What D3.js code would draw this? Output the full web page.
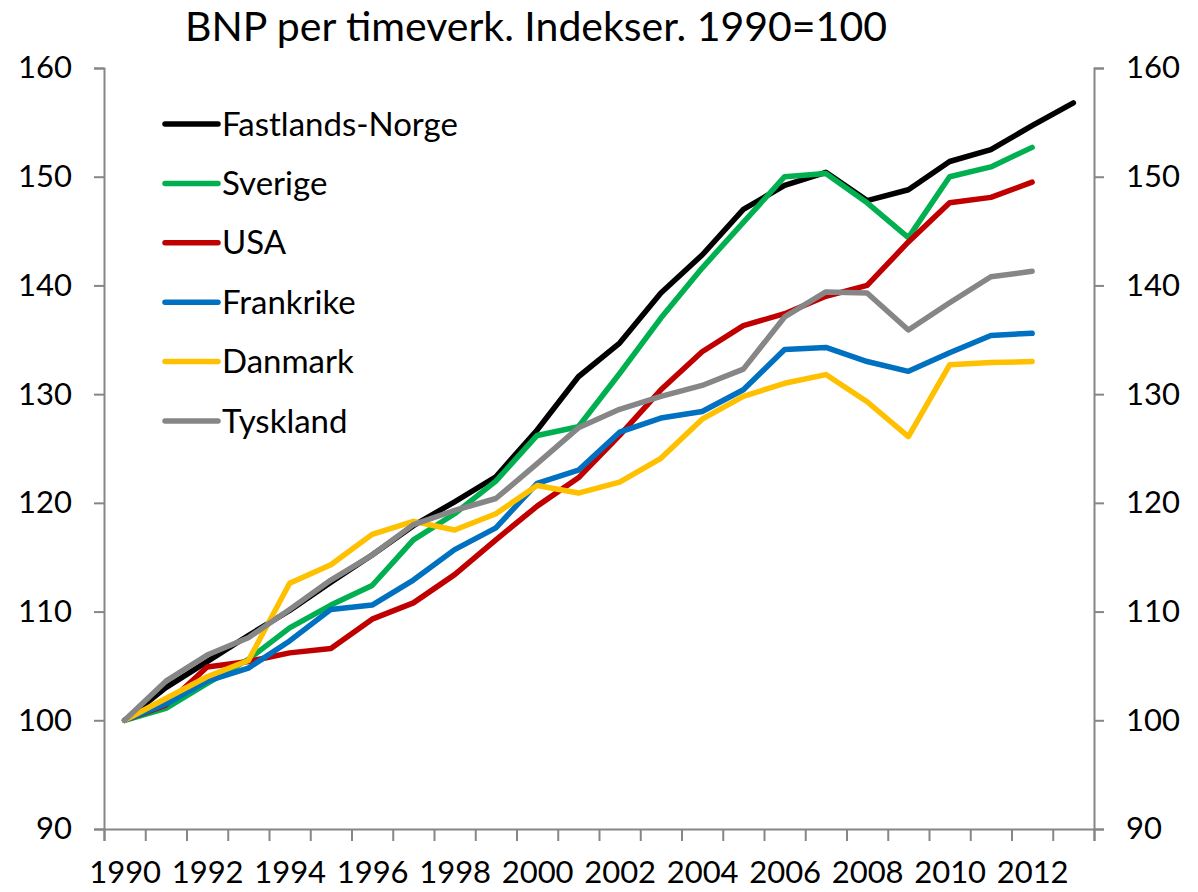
<!DOCTYPE html>
<html>
<head>
<meta charset="utf-8">
<script src="https://cdn.jsdelivr.net/npm/d3@7"></script>
<style>
  body { margin: 0; background: #fff; }
  text { font-family: Lato, "Open Sans", sans-serif; fill: #000; }
</style>
</head>
<body>
<div id="chart"></div>
<script>
// data
var years = d3.range(1990, 2014);
var yearLabels = ["1990","1992","1994","1996","1998","2000","2002","2004","2006","2008","2010","2012"];
var yTicks = [90, 100, 110, 120, 130, 140, 150, 160];

var norge    = [100, 103.0, 105.4, 107.8, 110.1, 112.7, 115.2, 117.9, 120.1, 122.4, 126.7, 131.6, 134.7, 139.3, 142.8, 147.0, 149.2, 150.4, 147.8, 148.8, 151.4, 152.5, 154.7, 156.8];
var sverige  = [100, 101.1, 103.4, 105.6, 108.5, 110.6, 112.4, 116.6, 119.0, 122.0, 126.2, 127.0, 131.9, 137.0, 141.6, 145.8, 150.0, 150.3, 147.6, 144.4, 150.0, 150.9, 152.7];
var usa      = [100, 101.4, 104.9, 105.4, 106.2, 106.6, 109.3, 110.8, 113.4, 116.6, 119.7, 122.3, 126.2, 130.4, 133.9, 136.3, 137.4, 139.0, 140.0, 144.0, 147.6, 148.1, 149.5];
var frankrike= [100, 101.5, 103.6, 104.8, 107.3, 110.2, 110.6, 112.9, 115.7, 117.7, 121.8, 123.0, 126.5, 127.8, 128.4, 130.4, 134.1, 134.3, 133.0, 132.1, 133.8, 135.4, 135.6];
var danmark  = [100, 102.0, 104.0, 105.5, 112.6, 114.3, 117.1, 118.3, 117.5, 119.0, 121.6, 120.9, 121.9, 124.1, 127.7, 129.8, 131.0, 131.8, 129.3, 126.1, 132.7, 132.9, 133.0];
var tyskland = [100, 103.6, 106.0, 107.6, 110.2, 112.9, 115.2, 118.0, 119.3, 120.4, 123.6, 126.9, 128.6, 129.8, 130.8, 132.3, 137.1, 139.4, 139.3, 135.9, 138.4, 140.8, 141.3];

var seriesNames = ["Fastlands-Norge", "Sverige", "USA", "Frankrike", "Danmark", "Tyskland"];
var seriesColors = ["#000000", "#00B050", "#C00000", "#0070C0", "#FFC000", "#868686"];
var seriesValues = [norge, sverige, usa, frankrike, danmark, tyskland];

var width = 1198, height = 892;
var plotLeft = 104, plotRight = 1094, plotTop = 68, plotBottom = 829;

var svg = d3.select("#chart").append("svg")
  .attr("width", width)
  .attr("height", height);

var x = d3.scaleLinear().domain([1989.5, 2013.5]).range([plotLeft, plotRight]);
var y = d3.scaleLinear().domain([90, 160]).range([plotBottom, plotTop]);

var axisColor = "#868686";

// left axis
svg.append("g")
  .attr("transform", "translate(" + plotLeft + ",0)")
  .call(d3.axisLeft(y).tickValues(yTicks).tickSize(10).tickPadding(22).tickFormat(d3.format("d")))
  .call(g => g.select(".domain").attr("stroke", axisColor).attr("stroke-width", 2))
  .call(g => g.selectAll(".tick line").attr("stroke", axisColor).attr("stroke-width", 2))
  .call(g => g.selectAll(".tick text").attr("font-size", 31).style("font-family", "Lato, sans-serif"));

// right axis
svg.append("g")
  .attr("transform", "translate(" + plotRight + ",0)")
  .call(d3.axisRight(y).tickValues(yTicks).tickSize(10).tickPadding(22).tickFormat(d3.format("d")))
  .call(g => g.select(".domain").attr("stroke", axisColor).attr("stroke-width", 2))
  .call(g => g.selectAll(".tick line").attr("stroke", axisColor).attr("stroke-width", 2))
  .call(g => g.selectAll(".tick text").attr("font-size", 31).style("font-family", "Lato, sans-serif"));

// bottom axis: tick marks between the years
svg.append("g")
  .attr("transform", "translate(0," + plotBottom + ")")
  .call(d3.axisBottom(x).tickValues(d3.range(1989.5, 2014, 1)).tickSize(12).tickFormat(""))
  .call(g => g.select(".domain").attr("stroke", axisColor).attr("stroke-width", 2))
  .call(g => g.selectAll(".tick line").attr("stroke", axisColor).attr("stroke-width", 2));

// year labels
svg.append("g")
  .attr("transform", "translate(0," + plotBottom + ")")
  .call(d3.axisBottom(x).tickValues(yearLabels.map(Number)).tickSize(0).tickPadding(32).tickFormat(d3.format("d")))
  .call(g => g.select(".domain").remove())
  .call(g => g.selectAll(".tick text").attr("font-size", 31).style("font-family", "Lato, sans-serif"));

// lines
var line = d3.line()
  .x(function(d, i) { return x(years[i]); })
  .y(function(d) { return y(d); });

seriesValues.forEach(function(vals, k) {
  svg.append("path")
    .datum(vals)
    .attr("fill", "none")
    .attr("stroke", seriesColors[k])
    .attr("stroke-width", 5.5)
    .attr("stroke-linejoin", "round")
    .attr("stroke-linecap", "round")
    .attr("d", line);
});

// legend
var legend = svg.append("g").attr("transform", "translate(165,124)");
seriesNames.forEach(function(name, k) {
  var row = legend.append("g").attr("transform", "translate(0," + (k * 59.4) + ")");
  row.append("line")
    .attr("x1", 0).attr("x2", 53)
    .attr("stroke", seriesColors[k])
    .attr("stroke-width", 5.5)
    .attr("stroke-linecap", "round");
  row.append("text")
    .attr("x", 57)
    .attr("dy", "0.35em")
    .attr("font-size", 33)
    .text(name);
});

// title
svg.append("text")
  .attr("x", 536)
  .attr("y", 41)
  .attr("text-anchor", "middle")
  .attr("font-size", 41)
  .text("BNP per timeverk. Indekser. 1990=100");
</script>
</body>
</html>
